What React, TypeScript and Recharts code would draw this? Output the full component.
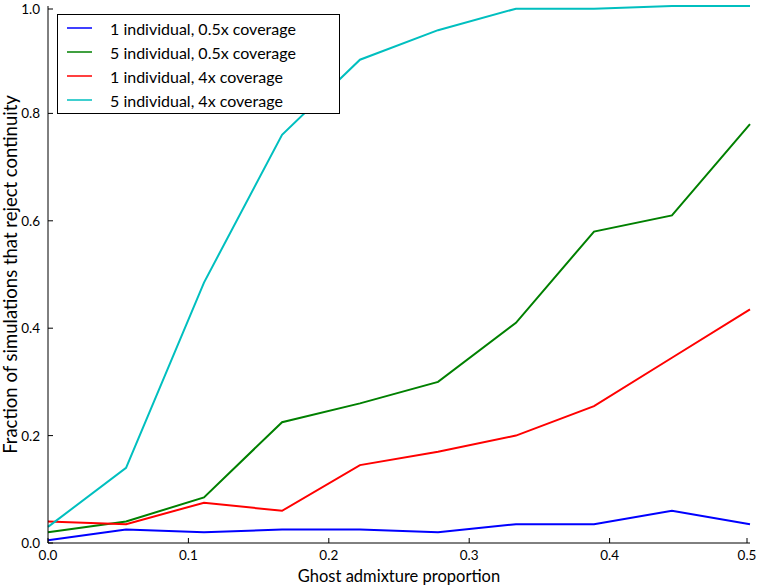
import { Legend, Line, LineChart, XAxis, YAxis } from 'recharts'

const admixture = [0, 0.0556, 0.1111, 0.1667, 0.2222, 0.2778, 0.3333, 0.3889, 0.4444, 0.5]
const oneLow = [0.005, 0.025, 0.02, 0.025, 0.025, 0.02, 0.035, 0.035, 0.06, 0.035]
const fiveLow = [0.02, 0.04, 0.085, 0.225, 0.26, 0.3, 0.41, 0.58, 0.61, 0.78]
const oneHigh = [0.04, 0.035, 0.075, 0.06, 0.145, 0.17, 0.2, 0.255, 0.345, 0.435]
const fiveHigh = [0.03, 0.14, 0.485, 0.76, 0.9, 0.955, 0.995, 0.995, 1.0, 1.0]

const xTicks = [0, 0.1, 0.2, 0.3, 0.4, 0.5]
const yTicks = [0, 0.2, 0.4, 0.6, 0.8, 1.0]

const series = [
  { key: 'oneLow', name: '1 individual, 0.5x coverage', color: '#0000ff' },
  { key: 'fiveLow', name: '5 individual, 0.5x coverage', color: '#008000' },
  { key: 'oneHigh', name: '1 individual, 4x coverage', color: '#ff0000' },
  { key: 'fiveHigh', name: '5 individual, 4x coverage', color: '#00bfbf' }
]

const data = admixture.map((x, i) => ({
  x,
  oneLow: oneLow[i],
  fiveLow: fiveLow[i],
  oneHigh: oneHigh[i],
  fiveHigh: fiveHigh[i]
}))

const FONT = 'Lato, sans-serif'
const TICK = 5

const BottomTick = ({ x, y, payload }: any) => (
  <g>
    <line x1={x} x2={x} y1={y} y2={y - TICK} stroke='#000' />
    <text x={x} y={y + 17} textAnchor='middle' fontFamily={FONT} fontSize={13.5} fill='#000'>
      {Number(payload.value).toFixed(1)}
    </text>
  </g>
)

const TopTick = ({ x, y }: any) => (
  <line x1={x} x2={x} y1={y} y2={y + TICK} stroke='#000' />
)

const LeftTick = ({ x, y, payload }: any) => (
  <g>
    <line x1={x} x2={x + TICK} y1={y} y2={y} stroke='#000' />
    <text x={x - 8} y={y + 5} textAnchor='end' fontFamily={FONT} fontSize={13.5} fill='#000'>
      {Number(payload.value).toFixed(1)}
    </text>
  </g>
)

const RightTick = ({ x, y }: any) => (
  <line x1={x} x2={x - TICK} y1={y} y2={y} stroke='#000' />
)

const LegendBox = () => (
  <div
    style={{
      border: '1px solid #000',
      background: '#fff',
      width: 281,
      padding: '1px 0 1px 0',
      fontFamily: FONT,
      fontSize: 16
    }}
  >
    {series.map((s) => (
      <div key={s.key} style={{ display: 'flex', alignItems: 'center', height: 24, whiteSpace: 'nowrap' }}>
        <svg width={25} height={4} style={{ marginLeft: 9, marginRight: 18 }}>
          <line x1={0} x2={25} y1={2} y2={2} stroke={s.color} strokeWidth={1.5} />
        </svg>
        <span>{s.name}</span>
      </div>
    ))}
  </div>
)

const App = () => {
  return (
    <div style={{ position: 'absolute', left: 0, top: 0, background: '#fff' }}>
      <LineChart width={757} height={585} data={data} margin={{ top: 6, right: 7, bottom: 0, left: 0 }}>
        <XAxis
          xAxisId='bottom'
          dataKey='x'
          type='number'
          domain={[0, 0.5]}
          ticks={xTicks}
          height={42}
          tickSize={0}
          tickMargin={0}
          tick={<BottomTick />}
          tickLine={false}
          axisLine={{ stroke: '#000' }}
          label={{ value: 'Ghost admixture proportion', position: 'insideBottom', offset: 3, fontFamily: FONT, fontSize: 16.5, fill: '#000' }}
        />
        <XAxis
          xAxisId='top'
          orientation='top'
          dataKey='x'
          type='number'
          domain={[0, 0.5]}
          ticks={xTicks}
          height={0}
          tickSize={0}
          tickMargin={0}
          tick={<TopTick />}
          tickLine={false}
          axisLine={{ stroke: '#000' }}
        />
        <YAxis
          yAxisId='left'
          type='number'
          domain={[0, 1]}
          ticks={yTicks}
          width={48}
          tickSize={0}
          tickMargin={0}
          tick={<LeftTick />}
          tickLine={false}
          axisLine={{ stroke: '#000' }}
          label={{ value: 'Fraction of simulations that reject continuity', angle: -90, position: 'insideLeft', offset: 10, style: { textAnchor: 'middle' }, fontFamily: FONT, fontSize: 18.5, fill: '#000' }}
        />
        <YAxis
          yAxisId='right'
          orientation='right'
          type='number'
          domain={[0, 1]}
          ticks={yTicks}
          width={0}
          tickSize={0}
          tickMargin={0}
          tick={<RightTick />}
          tickLine={false}
          axisLine={{ stroke: '#000' }}
        />
        <Legend
          layout='vertical'
          align='center'
          verticalAlign='middle'
          wrapperStyle={{ left: 57, top: 14, width: 283 }}
          content={<LegendBox />}
        />
        {series.map((s) => (
          <Line
            key={s.key}
            xAxisId='bottom'
            yAxisId='left'
            type='linear'
            dataKey={s.key}
            name={s.name}
            stroke={s.color}
            strokeWidth={2}
            dot={false}
            isAnimationActive={false}
          />
        ))}
      </LineChart>
    </div>
  )
}

export default App
